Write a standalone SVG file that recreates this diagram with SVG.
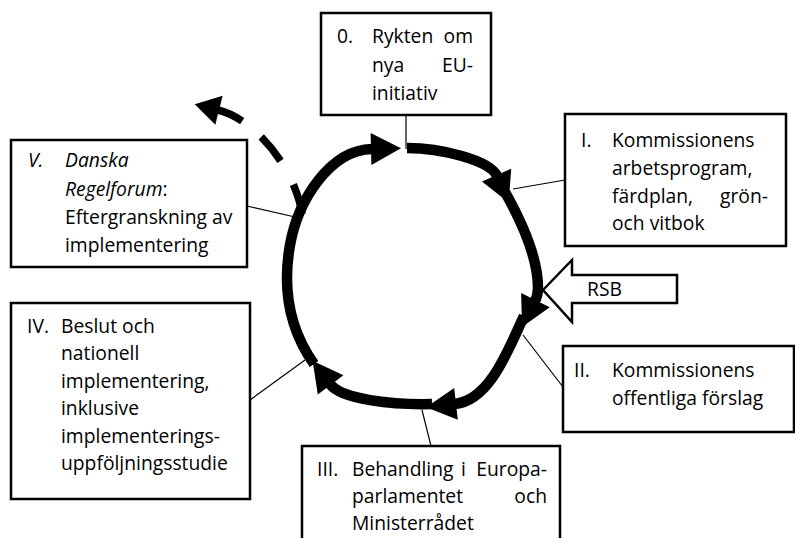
<svg xmlns="http://www.w3.org/2000/svg" width="795" height="538" viewBox="0 0 795 538">
<style>
.box{fill:#fff;stroke:#000;stroke-width:2.5}
.t{font-family:"Open Sans","Noto Sans","DejaVu Sans",sans-serif;font-size:19.3px;fill:#000}
.i{font-style:italic}
.lead{stroke:#000;stroke-width:1.2;fill:none}
.arc{fill:none;stroke:#000;stroke-width:10.5;marker-end:url(#ah)}
.dash{fill:none;stroke:#000;stroke-width:7.5;stroke-dasharray:30 26 30 24 26;marker-end:url(#ahs)}
</style>
<defs>
<marker id="ah" markerUnits="userSpaceOnUse" markerWidth="34" markerHeight="34" refX="1" refY="17" orient="auto" overflow="visible"><path d="M0,1 L30,17 L0,33 z" fill="#000"/></marker>
<marker id="ahs" markerUnits="userSpaceOnUse" markerWidth="30" markerHeight="30" refX="1" refY="15" orient="auto" overflow="visible"><path d="M0,0 L25,15 L0,30 z" fill="#000"/></marker>
</defs>
<rect width="795" height="538" fill="#fff"/>
<g id="connectors">
<line class="lead" x1="406" y1="115" x2="406" y2="149"/>
<line class="lead" x1="565" y1="180" x2="513" y2="189"/>
<line class="lead" x1="563" y1="387" x2="523" y2="335"/>
<line class="lead" x1="431" y1="446" x2="422" y2="410"/>
<line class="lead" x1="250" y1="400" x2="305" y2="360"/>
<line class="lead" x1="247" y1="206" x2="295" y2="217"/>
<path class="arc" d="M407,148 C440,148 490,160 497,176"/>
<path class="arc" d="M505,192 C523,224 538,258 538,288 Q538,295 535,301"/>
<path class="arc" d="M524,316 C508,350 490,400 455,404"/>
<path class="arc" d="M432,404 C395,405 342,400 330,384"/>
<path class="arc" d="M314,364 C290,330 282,290 290,245 C298,200 330,150 372,149"/>
<path class="dash" pathLength="136" d="M302,214 C296,172 258,120 218,110"/>
</g>
<g id="rsb">
<path d="M543,290 L572,260 L572,275 L677,275 L677,303 L572,303 L572,322 z" fill="#fff" stroke="#000" stroke-width="2.5"/>
<text class="t" x="587" y="296">RSB</text>
</g>
<g id="node0">
<rect class="box" x="321" y="13" width="170" height="102"/>
<text class="t" x="337" y="43">0.</text>
<text class="t" x="372" y="43">Rykten</text>
<text class="t" x="473" y="43" text-anchor="end">om</text>
<text class="t" x="372" y="72">nya</text>
<text class="t" x="473" y="72" text-anchor="end">EU-</text>
<text class="t" x="372" y="100">initiativ</text>
</g>
<g id="node1">
<rect class="box" x="565" y="114" width="221" height="132"/>
<text class="t" x="581" y="147">I.</text>
<text class="t" x="612" y="147">Kommissionens</text>
<text class="t" x="612" y="175">arbetsprogram,</text>
<text class="t" x="612" y="203">färdplan,</text>
<text class="t" x="768" y="203" text-anchor="end">grön-</text>
<text class="t" x="612" y="230">och vitbok</text>
</g>
<g id="node2">
<rect class="box" x="563" y="346" width="231" height="86"/>
<text class="t" x="574" y="377">II.</text>
<text class="t" x="612" y="377">Kommissionens</text>
<text class="t" x="612" y="405">offentliga förslag</text>
</g>
<g id="node3">
<rect class="box" x="302" y="446" width="258" height="100"/>
<text class="t" x="317" y="476">III.</text>
<text class="t" x="352" y="476">Behandling</text>
<text class="t" x="461" y="476">i</text>
<text class="t" x="547" y="476" text-anchor="end">Europa-</text>
<text class="t" x="352" y="503">parlamentet</text>
<text class="t" x="547" y="503" text-anchor="end">och</text>
<text class="t" x="352" y="530">Ministerrådet</text>
</g>
<g id="node4">
<rect class="box" x="11" y="303" width="239" height="196"/>
<text class="t" x="27" y="333">IV.</text>
<text class="t" x="61" y="333">Beslut och</text>
<text class="t" x="61" y="360">nationell</text>
<text class="t" x="61" y="388">implementering,</text>
<text class="t" x="61" y="415">inklusive</text>
<text class="t" x="61" y="443">implementerings-</text>
<text class="t" x="61" y="470">uppföljningsstudie</text>
</g>
<g id="node5">
<rect class="box" x="11" y="140" width="236" height="127"/>
<text class="t i" x="28" y="167">V.</text>
<text class="t i" x="65" y="167">Danska</text>
<text class="t" x="65" y="196"><tspan class="i">Regelforum</tspan>:</text>
<text class="t" x="65" y="224">Eftergranskning av</text>
<text class="t" x="65" y="252">implementering</text>
</g>
</svg>
